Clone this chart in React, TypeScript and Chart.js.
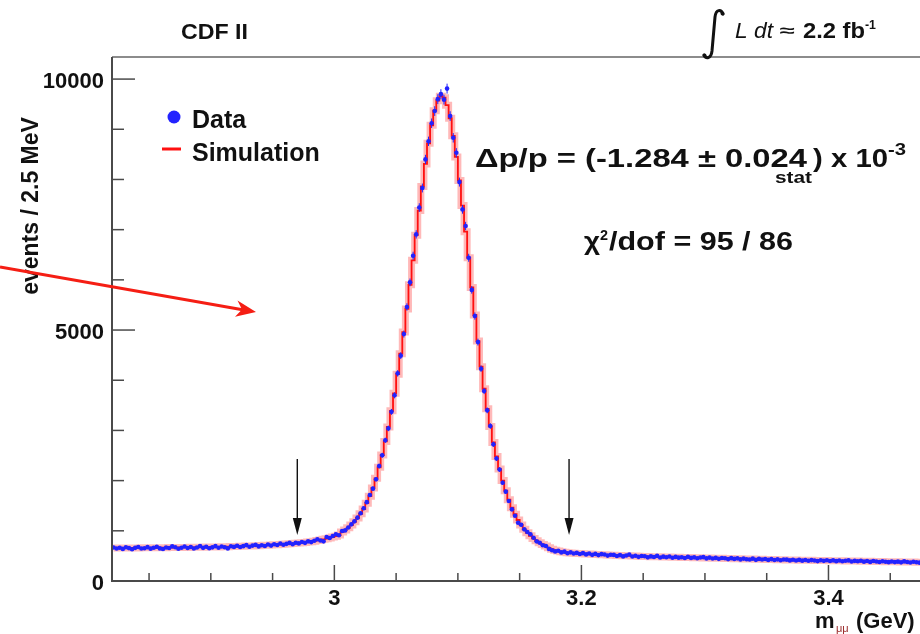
import React, { useEffect, useRef } from "react";
import { Chart, registerables } from "chart.js";
Chart.register(...registerables);

const BIN_LOW = 2.82;
const BIN_WIDTH = 0.0025;
const X_MIN = 2.82;
const X_MAX = 3.5;
const Y_MIN = 0;
const Y_MAX = 10440;

// Simulation histogram (events / 2.5 MeV), bins from 2.82 GeV
const simLeft = [
  655, 656, 656, 657, 657, 658, 658, 659, 659, 660,
  660, 661, 661, 662, 662, 663, 664, 664, 665, 666,
  666, 667, 668, 668, 669, 670, 671, 672, 673, 674,
  675, 676, 677, 678, 679, 681, 682, 684, 685, 687,
  689, 691, 693, 695, 697, 699, 702, 704, 707, 710,
  713, 716, 720, 723, 727, 731, 735, 740, 745, 750,
  756, 762, 769, 776, 784, 793, 808, 818, 830, 843,
  858, 875, 894, 915,
];
const simPeak = [
  975, 1015, 1060, 1115, 1180, 1255, 1340,
  1435, 1550, 1690, 1855, 2045, 2265, 2510, 2780, 3070, 3390,
  3740, 4120, 4530, 4960, 5420, 5900, 6390, 6890, 7380, 7860,
  8310, 8720, 9080, 9370, 9570, 9660, 9630, 9480, 9220, 8870,
  8450, 7980, 7480, 6960, 6440, 5850, 5300, 4780, 4270, 3830,
  3430, 3080, 2760, 2480, 2230, 2000, 1800, 1620, 1460, 1330,
  1215, 1115, 1030, 960, 900, 848, 802, 762, 727, 696,
  660, 635, 612, 596, 583, 573, 565, 559, 554, 550,
];
const simRight = [
  546,
  542, 539, 536, 533, 530, 527, 524, 521, 518, 515,
  513, 510, 508, 505, 503, 501, 498, 496, 493, 490,
  488, 487, 485, 484, 482, 481, 479, 478, 476, 475,
  473, 472, 470, 469, 467, 466, 464, 463, 461, 460,
  458, 457, 455, 454, 452, 451, 449, 448, 446, 445,
  443, 442, 440, 439, 437, 436, 434, 433, 431, 430,
  428, 427, 426, 424, 423, 422, 420, 419, 418, 416,
  415, 414, 413, 412, 411, 410, 409, 408, 407, 406,
  405, 404, 403, 402, 401, 400, 399, 398, 397, 396,
  395, 394, 393, 392, 391, 389, 388, 387, 386, 385,
  384, 383, 382, 381, 380, 379, 378, 377, 376, 375,
  374, 373, 372, 371, 370, 369, 368, 367, 366, 365,
];

// Data histogram (events / 2.5 MeV)
const dataLeft = [
  668, 649, 662, 640, 671, 655, 634, 660, 676, 648,
  652, 674, 645, 663, 681, 650, 639, 667, 658, 690,
  671, 643, 662, 688, 657, 676, 649, 668, 695, 660,
  681, 652, 670, 694, 663, 688, 671, 650, 692, 679,
  701, 676, 694, 715, 682, 705, 720, 689, 711, 698,
  726, 705, 731, 716, 748, 722, 740, 759, 733, 761,
  749, 778, 760, 790, 775, 801, 831, 806, 790, 876,
  858, 896, 930, 912,
];
const dataPeak = [
  996, 1008, 1066, 1129, 1188, 1262, 1350,
  1448, 1571, 1712, 1840, 2026, 2290, 2505, 2803, 3040, 3370,
  3700, 4137, 4490, 4920, 5460, 5950, 6480, 6906, 7440, 7830,
  8400, 8760, 9120, 9363, 9600, 9700, 9590, 9810, 9263, 8830,
  8532, 7948, 7404, 7072, 6440, 5800, 5279, 4760, 4230, 3785,
  3400, 3088, 2723, 2440, 2220, 1958, 1780, 1594, 1428, 1300,
  1161, 1120, 1029, 975, 930, 863, 790, 763, 712, 697,
  640, 612, 590, 603, 570, 585, 552, 571, 549, 560,
];
const dataRight = [
  538,
  555, 530, 547, 521, 540, 516, 535, 529, 506, 522,
  520, 498, 515, 490, 509, 528, 487, 502, 481, 497,
  493, 471, 490, 478, 500, 469, 485, 472, 489, 464,
  480, 465, 474, 458, 481, 460, 471, 452, 468, 475,
  450, 466, 447, 460, 441, 458, 452, 436, 455, 440,
  451, 430, 446, 433, 428, 445, 421, 440, 429, 437,
  420, 436, 419, 431, 414, 428, 425, 410, 424, 408,
  421, 405, 418, 402, 416, 409, 396, 414, 401, 412,
  398, 411, 395, 407, 392, 404, 410, 389, 401, 393,
  402, 386, 397, 381, 399, 390, 378, 394, 383, 376,
  389, 377, 386, 372, 391, 380, 369, 383, 374, 366,
  380, 368, 377, 362, 372, 379, 360, 371, 364, 368,
];

const yTickValues = [0, 1000, 2000, 3000, 4000, 5000, 6000, 7000, 8000, 9000, 10000];
const yLabelTicks = [0, 5000, 10000];
const yLabelTexts = ["0", "5000", "10000"];
const xTickValues = [2.85, 2.9, 2.95, 3.0, 3.05, 3.1, 3.15, 3.2, 3.25, 3.3, 3.35, 3.4, 3.45];
const xLabelTicks = [3.0, 3.2, 3.4];
const xLabelTexts = ["3", "3.2", "3.4"];

// Window cut markers (black arrows), in data coordinates
const cutMasses = [2.97, 3.19];
const cutArrowTop = 2430;
const cutArrowTip = 916;

const FONT = '"Liberation Sans", Arial, Helvetica, sans-serif';
const BLUE = "#2323ff";

function fitText(ctx: CanvasRenderingContext2D, text: string, x: number, y: number, font: string, width: number) {
  ctx.font = font;
  const w = ctx.measureText(text).width;
  ctx.save();
  ctx.translate(x, y);
  ctx.scale(width / w, 1);
  ctx.fillText(text, 0, 0);
  ctx.restore();
}

export default function App() {
  const ref = useRef<HTMLCanvasElement>(null);

  useEffect(() => {
    const canvas = ref.current!;
    const simCounts = [...simLeft, ...simPeak, ...simRight];
    const dataCounts = [...dataLeft, ...dataPeak, ...dataRight];
    const centers = dataCounts.map((_, i) => BIN_LOW + (i + 0.5) * BIN_WIDTH);
    const dataPts = dataCounts.map((v, i) => ({ x: centers[i], y: v }));
    const simPts = simCounts.map((v, i) => ({ x: centers[i], y: v }));

    const errorBars = {
      id: "errorBars",
      afterDatasetsDraw(chart: any) {
        const { ctx, chartArea, scales } = chart;
        const xs = scales.x, ys = scales.y;
        ctx.save();
        ctx.beginPath();
        ctx.rect(chartArea.left, chartArea.top, chartArea.right - chartArea.left, chartArea.bottom - chartArea.top);
        ctx.clip();
        ctx.strokeStyle = BLUE;
        ctx.lineWidth = 1;
        dataPts.forEach((p) => {
          const px = xs.getPixelForValue(p.x);
          const e = Math.sqrt(p.y);
          const y1 = ys.getPixelForValue(p.y - e);
          const y2 = ys.getPixelForValue(p.y + e);
          const py = ys.getPixelForValue(p.y);
          const xl = xs.getPixelForValue(p.x - BIN_WIDTH / 2);
          const xr = xs.getPixelForValue(p.x + BIN_WIDTH / 2);
          ctx.beginPath();
          ctx.moveTo(px, y1);
          ctx.lineTo(px, y2);
          ctx.moveTo(xl, py);
          ctx.lineTo(xr, py);
          ctx.stroke();
        });
        ctx.restore();
      },
    };

    const decor = {
      id: "decor",
      afterDraw(chart: any) {
        const { ctx, chartArea, scales } = chart;
        const xs = scales.x, ys = scales.y;
        const { left, top, bottom } = chartArea;
        const W = chart.width;
        ctx.save();

        // frame
        ctx.strokeStyle = "#8c8c8c";
        ctx.lineWidth = 2;
        ctx.beginPath();
        ctx.moveTo(left, top);
        ctx.lineTo(W, top);
        ctx.stroke();
        ctx.strokeStyle = "#4a4a4a";
        ctx.beginPath();
        ctx.moveTo(left, top);
        ctx.lineTo(left, bottom);
        ctx.lineTo(W, bottom);
        ctx.stroke();

        // ticks
        ctx.lineWidth = 1.5;
        yTickValues.forEach((v) => {
          const py = ys.getPixelForValue(v);
          const len = yLabelTicks.includes(v) ? 23 : 12;
          ctx.beginPath();
          ctx.moveTo(left, py);
          ctx.lineTo(left + len, py);
          ctx.stroke();
        });
        xTickValues.forEach((v) => {
          const px = xs.getPixelForValue(v);
          const major = xLabelTicks.some((t) => Math.abs(t - v) < 1e-6);
          const len = major ? 16 : 8;
          ctx.beginPath();
          ctx.moveTo(px, bottom);
          ctx.lineTo(px, bottom - len);
          ctx.stroke();
        });

        // tick labels
        ctx.fillStyle = "#111";
        ctx.font = `bold 22px ${FONT}`;
        ctx.textAlign = "right";
        ctx.textBaseline = "middle";
        yLabelTicks.forEach((v, i) => {
          ctx.fillText(yLabelTexts[i], left - 8, ys.getPixelForValue(v) + 3);
        });
        ctx.textAlign = "center";
        xLabelTicks.forEach((v, i) => {
          ctx.fillText(xLabelTexts[i], xs.getPixelForValue(v), bottom + 18);
        });

        // axis titles
        ctx.textBaseline = "alphabetic";
        ctx.save();
        ctx.translate(38, 206);
        ctx.rotate(-Math.PI / 2);
        ctx.textAlign = "center";
        ctx.font = `bold 23px ${FONT}`;
        ctx.fillText("events / 2.5 MeV", 0, 0);
        ctx.restore();

        ctx.textAlign = "left";
        ctx.font = `bold 22px ${FONT}`;
        ctx.fillText("m", 815, 628);
        ctx.fillStyle = "#9a2a2a";
        ctx.font = `11px ${FONT}`;
        ctx.fillText("\u03bc\u03bc", 836, 632);
        ctx.fillStyle = "#111";
        ctx.font = `bold 22px ${FONT}`;
        ctx.fillText("(GeV)", 856, 628);

        // header
        fitText(ctx, "CDF II", 181, 39, `bold 22px ${FONT}`, 67);

        // integral sign
        ctx.strokeStyle = "#111";
        ctx.lineWidth = 3;
        ctx.lineCap = "round";
        ctx.beginPath();
        ctx.moveTo(723, 14);
        ctx.bezierCurveTo(721, 9, 716, 9, 715, 17);
        ctx.lineTo(712, 51);
        ctx.bezierCurveTo(711, 59, 706, 59, 704, 55);
        ctx.stroke();
        ctx.fillStyle = "#111";
        ctx.beginPath();
        ctx.arc(722.5, 13.5, 2, 0, Math.PI * 2);
        ctx.arc(704.5, 55.5, 2, 0, Math.PI * 2);
        ctx.fill();
        fitText(ctx, "L dt", 735, 38, `italic 22px ${FONT}`, 38);
        fitText(ctx, "\u2248", 780, 36, `bold 16px ${FONT}`, 15);
        fitText(ctx, "2.2 fb", 803, 38, `bold 22px ${FONT}`, 62);
        fitText(ctx, "-1", 865, 29, `bold 13px ${FONT}`, 11);

        // legend
        ctx.fillStyle = BLUE;
        ctx.beginPath();
        ctx.arc(174, 117, 6.5, 0, Math.PI * 2);
        ctx.fill();
        ctx.strokeStyle = "#ff1010";
        ctx.lineWidth = 3;
        ctx.lineCap = "butt";
        ctx.beginPath();
        ctx.moveTo(162, 149);
        ctx.lineTo(181, 149);
        ctx.stroke();
        ctx.fillStyle = "#111";
        ctx.font = `bold 25px ${FONT}`;
        ctx.fillText("Data", 192, 128);
        ctx.fillText("Simulation", 192, 161);

        // fit result text
        fitText(ctx, "\u0394p/p = (-1.284 \u00b1 0.024", 475, 167, `bold 25px ${FONT}`, 332);
        fitText(ctx, "stat", 775, 183, `bold 16px ${FONT}`, 37);
        fitText(ctx, ") x 10", 813, 167, `bold 25px ${FONT}`, 75);
        fitText(ctx, "-3", 888, 155, `bold 16px ${FONT}`, 18);

        fitText(ctx, "\u03c7", 584, 250, `bold 25px ${FONT}`, 16);
        fitText(ctx, "2", 600, 240, `bold 15px ${FONT}`, 8);
        fitText(ctx, "/dof = 95 / 86", 609, 250, `bold 25px ${FONT}`, 184);

        // cut arrows
        ctx.strokeStyle = "#111";
        ctx.fillStyle = "#111";
        ctx.lineWidth = 1.4;
        cutMasses.forEach((m) => {
          const px = xs.getPixelForValue(m);
          const y0 = ys.getPixelForValue(cutArrowTop);
          const y1 = ys.getPixelForValue(cutArrowTip);
          ctx.beginPath();
          ctx.moveTo(px, y0);
          ctx.lineTo(px, y1 - 10);
          ctx.stroke();
          ctx.beginPath();
          ctx.moveTo(px, y1);
          ctx.lineTo(px - 4.5, y1 - 17);
          ctx.lineTo(px + 4.5, y1 - 17);
          ctx.closePath();
          ctx.fill();
        });

        // red pointer arrow (slide annotation)
        ctx.strokeStyle = "rgb(245,30,20)";
        ctx.fillStyle = "rgb(245,30,20)";
        ctx.lineWidth = 3;
        ctx.beginPath();
        ctx.moveTo(0, 267);
        ctx.lineTo(244, 310);
        ctx.stroke();
        ctx.beginPath();
        ctx.moveTo(256, 312);
        ctx.lineTo(237.5, 300.5);
        ctx.lineTo(242, 309.6);
        ctx.lineTo(235, 316.8);
        ctx.closePath();
        ctx.fill();

        ctx.restore();
      },
    };

    const chart = new Chart(canvas, {
      type: "line",
      data: {
        datasets: [
          {
            label: "Data",
            data: dataPts,
            showLine: false,
            pointRadius: 2.3,
            pointBackgroundColor: BLUE,
            pointBorderWidth: 0,
            borderColor: BLUE,
          },
          {
            label: "Simulation",
            data: simPts,
            stepped: "middle",
            borderColor: "#ff1010",
            borderWidth: 1.8,
            pointRadius: 0,
            fill: false,
          },
          {
            label: "Simulation band",
            data: simPts,
            stepped: "middle",
            borderColor: "rgba(255,80,80,0.4)",
            borderWidth: 7,
            pointRadius: 0,
            fill: false,
          },
        ],
      } as any,
      options: {
        responsive: false,
        animation: false,
        layout: { padding: { left: 112, top: 57, right: 8, bottom: 53 } },
        scales: {
          x: { type: "linear", min: X_MIN, max: X_MAX, display: false },
          y: { type: "linear", min: Y_MIN, max: Y_MAX, display: false },
        },
        plugins: { legend: { display: false }, tooltip: { enabled: false } },
      },
      plugins: [errorBars, decor],
    });
    return () => chart.destroy();
  }, []);

  return (
    <div
      style={{
        position: "fixed",
        left: 0,
        top: 0,
        width: 920,
        height: 634,
        overflow: "hidden",
        background: "#fff",
      }}
    >
      <canvas ref={ref} width={960} height={634} style={{ display: "block" }} />
    </div>
  );
}
